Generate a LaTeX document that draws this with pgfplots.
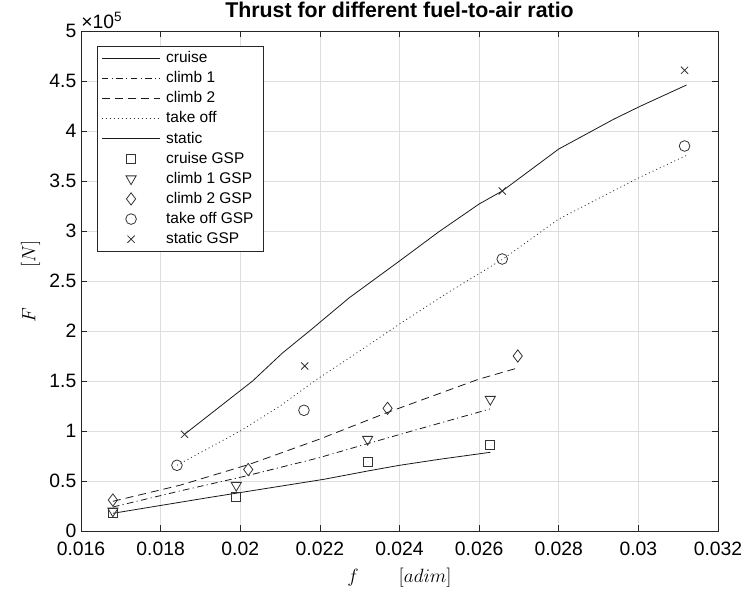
\documentclass[border=0pt]{standalone}
\usepackage{pgfplots}
\pgfplotsset{compat=1.18}
\usepackage{fontspec}
\setmainfont{Liberation Sans}
\definecolor{axgray}{RGB}{38,38,38}
\definecolor{gridgray}{RGB}{222,222,222}
\begin{document}
\begin{tikzpicture}
\begin{axis}[
  width=477.75pt, height=375pt, scale only axis,
  xmin=0.016, xmax=0.032, ymin=0, ymax=500000,
  xtick={0.016,0.018,0.02,0.022,0.024,0.026,0.028,0.03,0.032},
  ytick={0,50000,100000,150000,200000,250000,300000,350000,400000,450000,500000},
  scaled x ticks=false,
  scaled y ticks=base 10:-5,
  ytick scale label code/.code={×10\textsuperscript{5}},
  every y tick scale label/.style={at={(rel axis cs:0,1)},anchor=south west,inner sep=0pt,yshift=1.5pt},
  x tick label style={/pgf/number format/fixed,/pgf/number format/precision=3,yshift=-5pt},
  y tick label style={/pgf/number format/fixed,/pgf/number format/precision=1},
  /pgf/number format/assume math mode=true,
  tick label style={font=\fontsize{14.5}{17}\selectfont},
  axis line style={axgray, line width=0.5pt},
  tick style={axgray, line width=0.5pt},
  major tick length=4.5pt,
  grid=major, grid style={gridgray, line width=0.5pt},
  title={Thrust for different fuel-to-air ratio},
  title style={font=\bfseries\fontsize{16}{19}\selectfont, yshift=0.5pt},
  xlabel={$f \qquad [adim]$},
  ylabel={$F \qquad [N]$},
  xlabel style={yshift=-2pt},
  label style={font=\fontsize{15}{18}\selectfont},
  legend cell align=left,
  legend image code/.code={\draw[mark repeat=2,mark phase=2,#1] plot coordinates {(0pt,0pt)(22pt,0pt)(44pt,0pt)};},
  legend style={at={(0,1)}, anchor=north west, xshift=12pt, yshift=-11pt,
    draw=axgray, line width=0.5pt, fill=white, inner xsep=3pt, inner ysep=2pt,
    font=\fontsize{11.6}{13}\selectfont, row sep=1.2pt,
    nodes={inner xsep=4pt}},
  every axis plot/.append style={line width=0.6pt},
]
% lines
\addplot[black!90, mark=none] coordinates {(0.0168,17700)(0.0192,33400)(0.0221,51700)(0.0232,60000)(0.0240,65700)(0.0250,71700)(0.02628,78700)};
\addlegendentry{cruise}
\addplot[black!90, mark=none, dash pattern=on 5pt off 2.5pt on 0.8pt off 2.5pt] coordinates {(0.0168,24000)(0.01848,40000)(0.02014,55000)(0.02198,73300)(0.02314,86700)(0.02431,100000)(0.02627,122000)};
\addlegendentry{climb 1}
\addplot[black!90, mark=none, dash pattern=on 6pt off 3.75pt] coordinates {(0.0168,29700)(0.01848,45700)(0.02023,66700)(0.02198,91700)(0.02368,118300)(0.02598,151700)(0.0270,163400)};
\addlegendentry{climb 2}
\addplot[black!80, mark=none, dash pattern=on 0.75pt off 2.25pt] coordinates {(0.01841,65700)(0.0200,100000)(0.0210,125000)(0.0219,151000)(0.0230,180000)(0.0240,207000)(0.0252,238000)(0.0266,272000)(0.0280,312000)(0.0300,353000)(0.03123,376000)};
\addlegendentry{take off}
\addplot[black!90, mark=none] coordinates {(0.0186,96700)(0.02031,150000)(0.02106,178000)(0.0218,202000)(0.02273,233000)(0.0240,270000)(0.02498,299000)(0.0260,327000)(0.02658,340000)(0.02702,353000)(0.0280,382000)(0.02939,412000)(0.03006,425000)(0.03121,446000)};
\addlegendentry{static}
% GSP points
\addplot[only marks, black!80, mark=square, mark size=3.3pt] coordinates {(0.0168,18400)(0.0199,34500)(0.0232,68800)(0.02628,86200)};
\addlegendentry{cruise GSP}
\addplot[only marks, black!80, mark=triangle, mark size=4.4pt, mark options={rotate=180}] coordinates {(0.0168,20000)(0.0199,45700)(0.0232,91700)(0.02628,131700)};
\addlegendentry{climb 1 GSP}
\addplot[only marks, black!80, mark=diamond, mark size=4.6pt] coordinates {(0.0168,31000)(0.0202,61500)(0.0237,122700)(0.02697,175000)};
\addlegendentry{climb 2 GSP}
\addplot[only marks, black!80, mark=o, mark size=4pt] coordinates {(0.01841,65700)(0.0216,120700)(0.02658,272000)(0.03116,385000)};
\addlegendentry{take off GSP}
\addplot[only marks, black!80, mark=x, mark size=3.8pt] coordinates {(0.0186,96700)(0.02162,165000)(0.02658,340000)(0.03116,460700)};
\addlegendentry{static GSP}
\end{axis}
\path (current axis.south west) ++(-60.75pt,-47.25pt) coordinate (bl);
\path (current axis.north east) ++(19.5pt,23.25pt) coordinate (tr);
\pgfresetboundingbox
\path (bl) rectangle (tr);
\end{tikzpicture}
\end{document}
